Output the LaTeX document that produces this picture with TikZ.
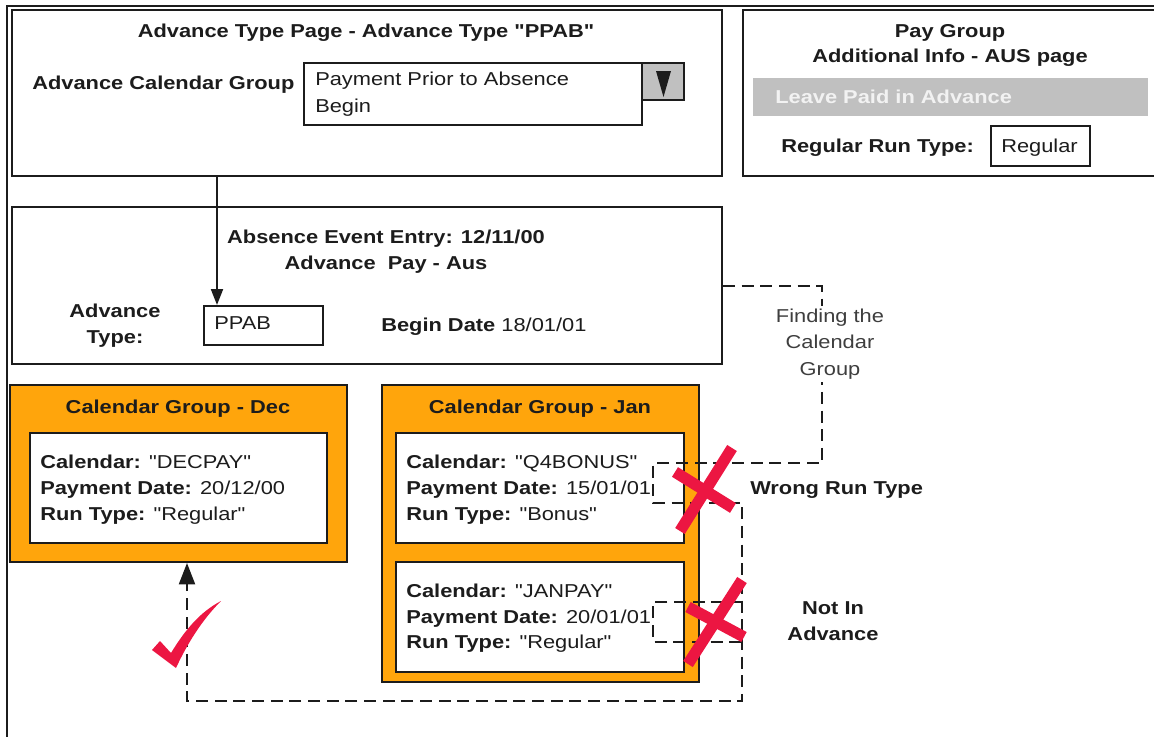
\documentclass[tikz,border=0pt]{standalone}
\usepackage{fontspec}
\setmainfont{Liberation Sans}[FakeStretch=1.17, Ligatures=TeXOff]
\usetikzlibrary{fit,arrows.meta}
\definecolor{orng}{RGB}{255,165,12}
\definecolor{xred}{RGB}{236,22,66}
\definecolor{ink}{RGB}{28,28,28}
\definecolor{barg}{RGB}{192,192,192}
\definecolor{bartxt}{RGB}{242,242,242}
\newcommand{\dqt}{\char34\relax}
\begin{document}
\begin{tikzpicture}[x=0.75pt,y=-0.75pt,
  font=\fontsize{14pt}{17pt}\selectfont,
  box/.style={draw=ink, line width=1.5pt, inner sep=0pt, fill=white},
  obox/.style={box, fill=orng},
  txt/.style={inner sep=0pt, text=ink},
  lt/.style={txt, anchor=base west},
  ct/.style={txt, anchor=base},
  dsh/.style={draw=ink, line width=1.5pt, dash pattern=on 9pt off 5pt},
  xmark/.style={draw=xred, line width=8.5pt},
  arr/.style={draw=ink, line width=1.5pt}
]
\useasboundingbox (0,0) rectangle (1154,736);
% outer frame
\draw[ink, line width=1.5pt] (7,740) -- (7,6) -- (1160,6);

% ---------- Advance Type Page ----------
\node[box, fit={(12,10) (722,176)}] (b1) {};
\node[ct] (t1) at (366,37) {\bfseries Advance Type Page - Advance Type \dqt PPAB\dqt};
\node[lt] (acg) at (32,89) {\bfseries Advance Calendar Group};
\node[box, fit={(304,63) (642,125)}] (dd) {};
\node[box, fill=barg, fit={(642,63) (684,100)}] (ddbtn) {};
\fill[ink] (656,71) -- (671,71) -- (663.5,97) -- cycle;
\node[lt] (dd1) at (315,85) {Payment Prior to Absence};
\node[lt] (dd2) at (315,112) {Begin};

% ---------- Pay Group ----------
\node[box, fit={(743,10) (1160,176)}] (b2) {};
\node[ct] (pg1) at (950,37) {\bfseries Pay Group};
\node[ct] (pg2) at (950,62) {\bfseries Additional Info - AUS page};
\node[fill=barg, inner sep=0pt, fit={(753,78) (1148,116)}] (bar) {};
\node[lt, text=bartxt] (lpa) at (775,103) {\bfseries Leave Paid in Advance};
\node[lt] (rrt) at (781,152) {\bfseries Regular Run Type:};
\node[box, fit={(991,126) (1090,166)}] (regb) {};
\node[lt] (regt) at (1001,152) {Regular};

% ---------- Absence Event ----------
\node[box, fit={(12,207) (722,364)}] (b3) {};
\node[ct] (ae1) at (386,243) {\bfseries Absence Event Entry: 12/11/00};
\node[ct] (ae2) at (386,269) {\bfseries Advance\ \ Pay - Aus};
\node[ct, align=center] (atl) at (115,343) {\bfseries Advance\\[2.5pt]\bfseries Type:};
\node[box, fit={(204,306) (323,345)}] (ppab) {};
\node[lt] (ppabt) at (214,329) {PPAB};
\node[lt] (bd) at (381,331) {\textbf{Begin Date} 18/01/01};

% arrow from advance type page to PPAB
\coordinate (ax) at (217,0);
\draw[arr, -{Triangle[length=12pt,width=9pt]}] (b1.south -| ax) -- (ppab.north -| ax);

% ---------- Calendar Group Dec ----------
\node[obox, fit={(10,385) (347,562)}] (dec) {};
\node[ct] (dect) at (178,413) {\bfseries Calendar Group - Dec};
\node[box, fit={(30,433) (327,543)}] (decin) {};
\node[lt] (d1) at (40,468) {\textbf{Calendar:} \dqt DECPAY\dqt};
\node[lt] (d2) at (40,494) {\textbf{Payment Date:} 20/12/00};
\node[lt] (d3) at (40,520) {\textbf{Run Type:} \dqt Regular\dqt};

% ---------- Calendar Group Jan ----------
\node[obox, fit={(382,385) (699,682)}] (jan) {};
\node[ct] (jant) at (540,413) {\bfseries Calendar Group - Jan};
\node[box, fit={(396,433) (684,543)}] (q4) {};
\node[lt] (q1) at (406,468) {\textbf{Calendar:} \dqt Q4BONUS\dqt};
\node[lt] (q2) at (406,494) {\textbf{Payment Date:} 15/01/01};
\node[lt] (q3) at (406,520) {\textbf{Run Type:} \dqt Bonus\dqt};
\node[box, fit={(396,562) (684,672)}] (jp) {};
\node[lt] (j1) at (406,597) {\textbf{Calendar:} \dqt JANPAY\dqt};
\node[lt] (j2) at (406,623) {\textbf{Payment Date:} 20/01/01};
\node[lt] (j3) at (406,648) {\textbf{Run Type:} \dqt Regular\dqt};

% ---------- dashed search path ----------
\coordinate (c1) at (822,285.5);
\coordinate (c2) at (822,463);
\coordinate (c3) at (653,463);
\coordinate (c4) at (653,503);
\coordinate (c5) at (742,503);
\coordinate (c6) at (742,701);
\coordinate (c7) at (187,701);
\draw[dsh, -{Triangle[length=16pt,width=12pt]}] (b3.east) -- (c1) -- (c2) -- (c3) -- (c4) -- (c5) -- (c6) -- (c7) -- (dec.south -| c7);
\coordinate (e1) at (742,602);
\coordinate (e2) at (653,602);
\coordinate (e3) at (653,642);
\coordinate (e4) at (742,642);
\draw[dsh] (e1) -- (e2) -- (e3) -- (e4);

\node[txt, fill=white, align=center, inner sep=2pt, text=ink!85] (find) at (830,344) {Finding the\\[3pt]Calendar\\[3pt]Group};

\node[lt] (wrt) at (750,494) {\bfseries Wrong Run Type};
\node[ct, align=center] (nia) at (833,640) {\bfseries Not In\\[2.5pt]\bfseries Advance};

% ---------- red marks ----------
\draw[xmark] (680,531) -- (732,448);
\draw[xmark] (675,472) -- (733,508);
\draw[xmark] (688,664) -- (742,580);
\draw[xmark] (688,607) -- (744,637);
\fill[xred] (152,650) -- (160,641) -- (171,653)
  .. controls (185,630) and (200,612) .. (221,601)
  .. controls (204,618) and (189,640) .. (176,668) -- cycle;
\end{tikzpicture}
\end{document}
